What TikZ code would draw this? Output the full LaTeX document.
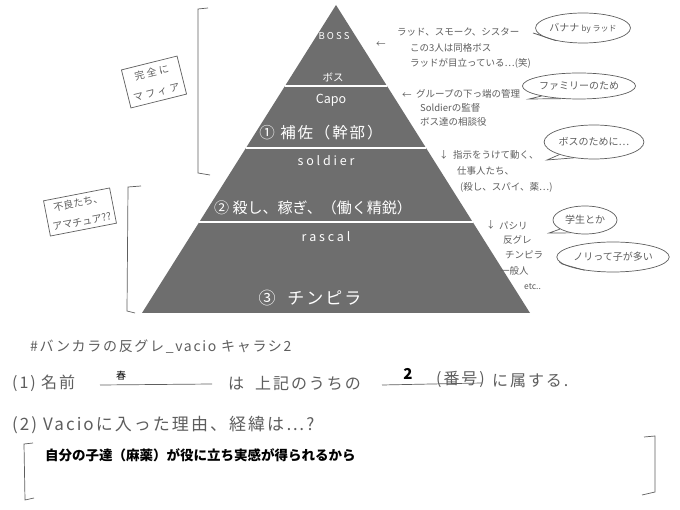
\documentclass[tikz,border=0pt]{standalone}
\usepackage{fontspec}
\usetikzlibrary{shapes.geometric}
\newfontfamily\jp{Noto Sans CJK JP}
\newfontfamily\jpw[LetterSpace=12]{Noto Sans CJK JP}
\newfontfamily\jpt[LetterSpace=25]{Noto Sans CJK JP}
\definecolor{handc}{HTML}{5E5E5E}
\definecolor{pyrc}{HTML}{6E6E6E}
\tikzset{
  hand/.style={text=handc, font=\jp\fontsize{9.5}{11}\selectfont, anchor=west, inner sep=0pt},
  bighand/.style={text=handc, font=\jpw\fontsize{16}{18}\selectfont, anchor=west, inner sep=0pt},
  pyrtext/.style={text=white, font=\jp\fontsize{12.5}{15}\selectfont, inner sep=0pt},
  handline/.style={draw=handc, line width=0.7pt},
  bubble/.style={ellipse, draw=handc, line width=0.7pt, inner sep=0pt, text=handc, font=\jp\fontsize{10}{12}\selectfont},
  tagbox/.style={draw=handc, line width=0.7pt, align=center, inner sep=5pt, text=handc, font=\jpt\fontsize{10}{20}\selectfont},
  printed/.style={text=black, font=\jp\bfseries\fontsize{13.5}{16}\selectfont, anchor=west, inner sep=0pt}
}
\begin{document}
\begin{tikzpicture}[x=1pt,y=-1pt]
\useasboundingbox[fill=white] (0,0) rectangle (680,510);
% pyramid
\fill[pyrc] (336,5) -- (530,313) -- (142,313) -- cycle;
\draw[white, line width=1.6pt] (285,86) -- (387,86);
\draw[white, line width=1.6pt] (246,148) -- (426,148);
\draw[white, line width=1.6pt] (199,222) -- (473,222);
\node[pyrtext, font=\jp\fontsize{9.5}{10}\selectfont] (boss) at (334,36) {B O S S};
\node[pyrtext, font=\jp\fontsize{10.5}{12}\selectfont] (bosu) at (333,77) {ボス};
\node[pyrtext] (capo) at (331,100) {Capo};
\node[pyrtext, font=\jpw\fontsize{15.5}{17}\selectfont] (l1) at (321,133) {① 補佐（幹部）};
\node[pyrtext] (soldier) at (326,161) {s o l d i e r};
\node[pyrtext, font=\jp\fontsize{15}{17}\selectfont] (l2) at (313,208) {② 殺し、稼ぎ、（働く精鋭）};
\node[pyrtext] (rascal) at (326,237) {r a s c a l};
\node[pyrtext, font=\jpw\fontsize{17}{19}\selectfont] (l3) at (310,298) {③ \ チンピラ};
% left brackets
\draw[handline] (208,8) -- (198,9) -- (198,173) -- (210,175);
\draw[handline] (141,186) -- (128,187) -- (127,311) -- (135,313);
\node[tagbox, rotate=14] (mafia) at (154,82) {完全に\\マフィア};
\node[tagbox, rotate=11, inner sep=4pt, font=\jp\fontsize{10}{19}\selectfont] (amateur) at (80,212) {不良たち、\\アマチュア??};
% note 1
\node[hand] (a1) at (376,45) {←};
\node[hand] (n1a) at (397,32) {ラッド、スモーク、シスター};
\node[hand] (n1b) at (410,48) {この3人は同格ボス};
\node[hand] (n1c) at (410,63) {ラッドが目立っている…(笑)};
\node[bubble, minimum width=92pt, minimum height=30pt] (b1) at (583,28) {バナナ {\fontsize{8}{10}\selectfont by ラッド}};
\coordinate (t1) at (533,33);
\draw[handline] (b1.190) -- (t1) -- (b1.205);
% note 2
\node[hand] (a2) at (402,96) {←};
\node[hand] (n2a) at (416,94) {グループの下っ端の管理};
\node[hand] (n2b) at (420,108) {Soldierの監督};
\node[hand] (n2c) at (420,122) {ボス達の相談役};
\node[bubble, minimum width=92pt, minimum height=26pt] (b2) at (579,86) {ファミリーのため};
\coordinate (t2) at (529,99);
\draw[handline] (b2.195) -- (t2) -- (b2.215);
% note 3
\node[hand] (a3) at (439,155) {↓};
\node[hand] (n3a) at (453,155) {指示をうけて動く、};
\node[hand] (n3b) at (457,171) {仕事人たち、};
\node[hand] (n3c) at (460,187) {(殺し、スパイ、薬…)};
\node[bubble, minimum width=90pt, minimum height=34pt] (b3) at (594,142) {ボスのために…};
\coordinate (t3) at (547,160);
\draw[handline] (b3.200) -- (t3) -- (b3.218);
% note 4
\node[hand] (a4) at (486,225) {↓};
\node[hand] (n4a) at (499,226) {パシリ};
\node[hand] (n4b) at (503,240) {反グレ};
\node[hand] (n4c) at (505,255) {チンピラ};
\node[hand] (n4d) at (500,271) {一般人};
\node[hand, font=\jp\fontsize{8.5}{10}\selectfont] (n4e) at (524,287) {etc..};
\node[bubble, minimum width=64pt, minimum height=28pt] (b4) at (585,220) {学生とか};
\coordinate (t4) at (549,233);
\draw[handline] (b4.200) -- (t4) -- (b4.222);
\node[bubble, minimum width=100pt, minimum height=30pt] (b5) at (613,257) {ノリって子が多い};
\coordinate (t5) at (562,264);
\draw[handline] (b5.185) -- (t5) -- (b5.205);
% bottom
\node[bighand, font=\jpw\fontsize{14}{16}\selectfont] (title) at (30,347) {\#バンカラの反グレ\_vacio キャラシ2};
\node[bighand] (q1) at (12,383) {(1) 名前};
\node[text=black, font=\jp\fontsize{10}{12}\selectfont, inner sep=0pt] (name) at (121,376) {春};
\draw[handline] (100,385) -- (212,384);
\node[bighand] (q1b) at (228,383) {は \ 上記のうちの};
\draw[handline] (382,385) -- (482,383);
\node[text=black, font=\jp\bfseries\fontsize{15}{17}\selectfont, inner sep=0pt] (num) at (408,374) {2};
\node[bighand] (q1c) at (436,379) {(番号)};
\node[bighand] (q1d) at (492,381) {に属する.};
\node[bighand, font=\jpw\fontsize{17}{19}\selectfont] (q2) at (12,425) {(2) Vacioに入った理由、経緯は…?};
\draw[handline] (33,443) -- (24,444) -- (25,500) -- (34,498);
\draw[handline] (644,437) -- (655,436) -- (655,492) -- (642,495);
\node[printed] (ans) at (45,455) {自分の子達（麻薬）が役に立ち実感が得られるから};
\end{tikzpicture}
\end{document}
